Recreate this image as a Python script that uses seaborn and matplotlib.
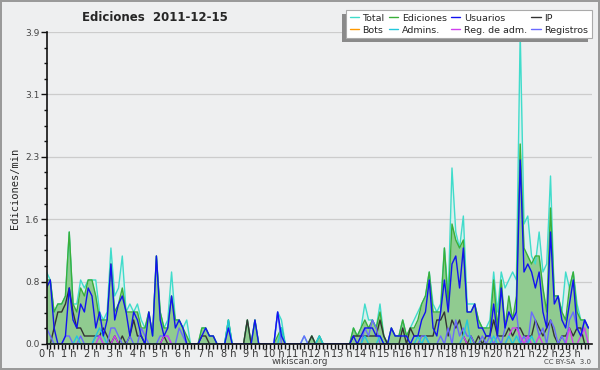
import numpy as np
import pandas as pd
import matplotlib
matplotlib.use('Agg')
import matplotlib.pyplot as plt
from matplotlib.lines import Line2D
from matplotlib.patches import Rectangle
import seaborn as sns

# edits per 10-minute bin, 144 bins (00:00 -> 23:50)
total = [
    9, 8, 4, 5, 5, 6,  14, 5, 5, 8, 7, 8,  8, 8, 4, 3, 4, 12,  6, 7, 11, 4, 5, 4,
    5, 3, 2, 4, 1, 11,  4, 2, 3, 9, 3, 3,  2, 3, 0, 0, 0, 2,  2, 1, 1, 0, 0, 0,
    3, 0, 0, 0, 0, 3,  0, 3, 0, 0, 0, 0,  0, 4, 3, 0, 0, 0,  0, 0, 1, 0, 1, 0,
    1, 0, 0, 0, 0, 0,  0, 0, 0, 2, 1, 2,  5, 3, 3, 2, 5, 1,  0, 2, 1, 1, 3, 1,
    2, 3, 4, 5, 6, 9,  5, 4, 5, 12, 6, 22,  14, 12, 16, 5, 5, 5,  3, 2, 2, 3, 9, 4,
    9, 7, 8, 9, 8, 39,  15, 16, 11, 10, 14, 9,  10, 21, 6, 6, 4, 9,  7, 9, 5, 3, 3, 2,
]
ediciones = [
    8, 8, 4, 5, 5, 6,  14, 5, 4, 7, 6, 8,  8, 6, 3, 3, 3, 10,  4, 5, 7, 4, 4, 4,
    4, 2, 2, 4, 1, 11,  4, 2, 2, 6, 3, 3,  2, 1, 0, 0, 0, 2,  2, 1, 1, 0, 0, 0,
    3, 0, 0, 0, 0, 3,  0, 3, 0, 0, 0, 0,  0, 1, 2, 0, 0, 0,  0, 0, 0, 0, 1, 0,
    1, 0, 0, 0, 0, 0,  0, 0, 0, 2, 1, 2,  3, 2, 3, 2, 4, 1,  0, 2, 1, 1, 3, 1,
    2, 2, 3, 5, 6, 9,  4, 4, 4, 12, 5, 15,  13, 12, 13, 4, 4, 5,  3, 2, 2, 2, 8, 2,
    8, 2, 6, 3, 6, 25,  12, 11, 10, 11, 11, 7,  4, 17, 6, 6, 4, 3,  7, 9, 4, 3, 3, 2,
]
usuarios = [
    7, 8, 2, 0, 0, 1,  7, 3, 2, 5, 4, 7,  6, 2, 4, 1, 3, 10,  3, 5, 6, 4, 1, 4,
    3, 1, 0, 4, 1, 11,  3, 1, 2, 6, 2, 3,  2, 0, 0, 0, 0, 1,  2, 1, 1, 0, 0, 0,
    2, 0, 0, 0, 0, 0,  0, 3, 0, 0, 0, 0,  0, 4, 1, 0, 0, 0,  0, 0, 0, 0, 0, 0,
    0, 0, 0, 0, 0, 0,  0, 0, 0, 1, 0, 1,  2, 2, 2, 1, 1, 0,  0, 2, 1, 1, 1, 1,
    0, 1, 1, 3, 4, 8,  2, 1, 4, 8, 4, 10,  11, 7, 12, 4, 4, 5,  2, 2, 1, 1, 5, 1,
    7, 2, 4, 3, 4, 23,  9, 10, 9, 7, 9, 4,  2, 14, 5, 6, 3, 2,  5, 8, 2, 1, 3, 2,
]
ip = [
    0, 0, 2, 4, 4, 5,  7, 4, 2, 2, 1, 1,  1, 1, 1, 2, 1, 0,  1, 0, 1, 0, 1, 3,
    1, 1, 0, 0, 0, 0,  0, 1, 0, 0, 0, 0,  0, 0, 0, 0, 0, 1,  1, 0, 0, 0, 0, 0,
    0, 0, 0, 0, 0, 3,  0, 0, 0, 0, 0, 0,  0, 0, 0, 0, 0, 0,  0, 0, 0, 0, 1, 0,
    0, 0, 0, 0, 0, 0,  0, 0, 0, 1, 1, 1,  1, 1, 1, 1, 3, 1,  0, 0, 0, 0, 2, 0,
    2, 1, 1, 1, 1, 1,  1, 3, 3, 4, 1, 3,  2, 3, 1, 0, 1, 0,  1, 0, 1, 1, 3, 1,
    1, 1, 2, 1, 2, 2,  1, 1, 1, 3, 2, 1,  2, 3, 1, 0, 1, 1,  2, 1, 2, 2, 0, 0,
]
bots = [0] * 144
admins = [
    0, 0, 0, 0, 0, 0,  0, 0, 1, 0, 0, 0,  0, 1, 2, 1, 0, 0,  0, 0, 0, 0, 0, 0,
    0, 0, 0, 0, 0, 0,  0, 0, 0, 0, 0, 0,  0, 0, 0, 0, 0, 0,  0, 0, 0, 0, 0, 0,
    3, 0, 0, 0, 0, 0,  0, 0, 0, 0, 0, 0,  0, 0, 2, 0, 0, 0,  0, 0, 0, 0, 0, 0,
    1, 0, 0, 0, 0, 0,  0, 0, 0, 0, 0, 0,  1, 0, 0, 0, 1, 0,  0, 0, 0, 0, 0, 0,
    0, 0, 1, 0, 1, 0,  0, 0, 0, 0, 0, 0,  0, 0, 1, 3, 0, 0,  0, 0, 0, 0, 1, 0,
    0, 0, 1, 0, 1, 0,  0, 0, 1, 0, 0, 0,  0, 0, 0, 0, 0, 0,  0, 0, 0, 0, 0, 0,
]
reg_adm = [
    0, 0, 0, 0, 0, 0,  0, 0, 0, 0, 0, 0,  0, 0, 1, 0, 0, 0,  1, 0, 0, 0, 0, 0,
    0, 0, 0, 0, 0, 0,  0, 1, 1, 0, 0, 0,  0, 0, 0, 0, 0, 0,  0, 0, 0, 0, 0, 0,
    0, 0, 0, 0, 0, 0,  0, 0, 0, 0, 0, 0,  0, 0, 0, 0, 0, 0,  0, 0, 0, 0, 0, 0,
    0, 0, 0, 0, 0, 0,  0, 0, 0, 0, 0, 0,  0, 0, 0, 0, 0, 0,  0, 0, 0, 0, 0, 0,
    0, 0, 0, 0, 0, 0,  0, 0, 0, 0, 0, 0,  0, 0, 1, 0, 0, 0,  0, 0, 0, 0, 0, 0,
    0, 0, 1, 2, 2, 1,  0, 1, 0, 0, 1, 0,  0, 0, 0, 0, 0, 0,  2, 0, 0, 1, 2, 0,
]
registros = [
    2, 1, 0, 0, 0, 1,  1, 0, 0, 1, 0, 0,  0, 1, 1, 0, 0, 2,  2, 1, 0, 0, 1, 0,
    0, 2, 1, 0, 0, 0,  1, 1, 1, 0, 0, 2,  1, 0, 0, 0, 0, 0,  0, 0, 0, 0, 0, 0,
    0, 0, 0, 0, 0, 0,  0, 0, 0, 0, 0, 0,  0, 4, 0, 0, 0, 0,  0, 0, 1, 0, 0, 0,
    0, 0, 0, 0, 0, 0,  0, 0, 0, 0, 0, 0,  2, 1, 3, 2, 0, 0,  0, 0, 0, 0, 0, 0,
    0, 0, 0, 1, 1, 0,  0, 0, 1, 0, 2, 0,  3, 1, 2, 1, 1, 0,  0, 1, 0, 1, 0, 1,
    0, 2, 4, 3, 4, 0,  1, 0, 4, 3, 1, 2,  0, 3, 2, 0, 1, 0,  3, 4, 2, 1, 3, 2,
]

series_names = ['Total', 'Ediciones', 'Usuarios', 'IP', 'Bots', 'Admins.', 'Reg. de adm.', 'Registros']
series_colors = ['#40dccb', '#3aaf3a', '#1212f0', '#333333', '#ff9900', '#22c8dc', '#d040ee', '#6a6aff']

minutes = np.arange(144) * 10
df = pd.DataFrame({
    'hora': minutes / 60,
    'Total': np.array(total) / 10,
    'Ediciones': np.array(ediciones) / 10,
    'Usuarios': np.array(usuarios) / 10,
    'IP': np.array(ip) / 10,
    'Bots': np.array(bots) / 10,
    'Admins.': np.array(admins) / 10,
    'Reg. de adm.': np.array(reg_adm) / 10,
    'Registros': np.array(registros) / 10,
})

bg = '#eeeff0'
sns.set_style('ticks')
plt.rcParams['font.family'] = ['DejaVu Sans']

fig = plt.figure(figsize=(6, 3.7), dpi=100, facecolor=bg, edgecolor='#9a9a9a', linewidth=1.5)
ax = fig.add_axes([0.0775, 0.0703, 0.9095, 0.8432])
ax.set_facecolor(bg)

colors = dict(zip(series_names, series_colors))

# filled areas
ax.fill_between(df['hora'], df['Total'], color='#d9efec', lw=0, zorder=1)
ax.fill_between(df['hora'], df['Ediciones'], color='#90cb90', lw=0, zorder=1.1)

# lines, drawn in the order they overlap in the original
for name in ['Total', 'Ediciones', 'IP', 'Bots', 'Registros', 'Reg. de adm.', 'Admins.', 'Usuarios']:
    sns.lineplot(data=df, x='hora', y=name, ax=ax, color=colors[name], lw=1,
                 estimator=None, zorder=2)

ax.set_xlim(0, 24)
ax.set_ylim(0, 3.9)
yt = np.linspace(0, 3.9, 6)
ax.set_yticks(yt)
ax.set_yticklabels([f'{v:.1f}' for v in yt])
ax.set_yticks(np.linspace(0, 3.9, 21), minor=True)
ax.set_xticks(range(24))
ax.set_xticklabels([f'{h} h' for h in range(24)])
ax.set_xticks(np.arange(0, 24, 1 / 6), minor=True)

ax.grid(axis='y', which='major', color='#cccccc', lw=0.9)
ax.set_axisbelow(True)
ax.tick_params(axis='y', which='major', left=True, direction='out', length=4, width=1,
               labelsize=6.5, pad=1, colors='#111111', labelcolor='#444444')
ax.tick_params(axis='y', which='minor', left=True, direction='out', length=2.5, width=1,
               colors='#111111')
ax.tick_params(axis='x', which='both', bottom=True, direction='out', length=3.5, width=1,
               colors='#111111', labelsize=7, pad=0, labelcolor='#333333')
for side in ['top', 'right']:
    ax.spines[side].set_visible(False)
for side in ['left', 'bottom']:
    ax.spines[side].set_color('#111111')
    ax.spines[side].set_linewidth(1.2)
    ax.spines[side].set_zorder(3)

ax.set_xlabel('')
ax.set_ylabel('Ediciones/min', family='DejaVu Sans Mono', fontsize=7.5, labelpad=4)

fig.text(0.258, 0.953, 'Ediciones  2011-12-15', ha='center', va='center',
         fontsize=8.5, fontweight='bold')
fig.text(0.5, 0.022, 'wikiscan.org', ha='center', va='center', fontsize=6.5, color='#444444')
fig.text(0.985, 0.022, 'CC BY-SA  3.0', ha='right', va='center', fontsize=5, color='#444444')

# legend: matplotlib fills columns first
order = ['Total', 'Bots', 'Ediciones', 'Admins.', 'Usuarios', 'Reg. de adm.', 'IP', 'Registros']
handles = [Line2D([], [], color=colors[n], lw=1) for n in order]
leg = fig.legend(handles, order, ncol=4, loc='upper right', bbox_to_anchor=(0.986, 0.973),
                 fontsize=6.8, handlelength=1.0, handletextpad=0.35, columnspacing=0.45,
                 labelspacing=0.3, borderpad=0.4, borderaxespad=0, frameon=True,
                 fancybox=False, edgecolor='#aaaaaa', facecolor='white', framealpha=1)
leg.get_frame().set_linewidth(0.8)
leg.set_zorder(10)

# grey drop shadow to the lower left of the legend box
fig.canvas.draw()
bb = leg.get_window_extent().transformed(fig.transFigure.inverted())
dx, dy = 4 / 600, 4 / 370
fig.patches.append(Rectangle((bb.x0 - dx, bb.y0 - dy), bb.width, bb.height,
                             transform=fig.transFigure, facecolor='#8a8a8a',
                             edgecolor='none', zorder=9))

fig.savefig('out.png', dpi=100, facecolor=bg, edgecolor='#9a9a9a')
